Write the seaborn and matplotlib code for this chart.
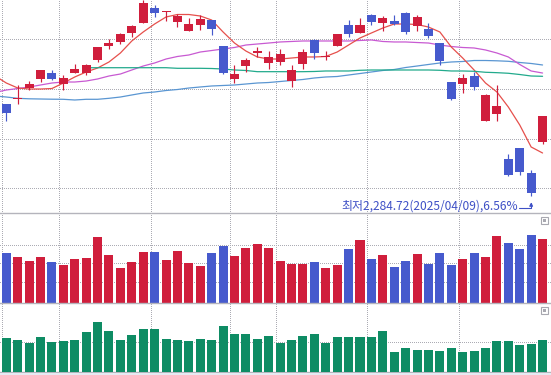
import matplotlib
matplotlib.use("Agg")
import matplotlib.pyplot as plt
import seaborn as sns
import pandas as pd
from matplotlib.patches import Rectangle

sns.set_theme(style="white")
plt.rcParams['font.family'] = ['Noto Sans CJK KR', 'DejaVu Sans']

# ---------------- data ----------------
day = list(range(48))
opens = [2469.7, 2480.5, 2501.9, 2520.1, 2532.1, 2510.0, 2532.1, 2532.1, 2558.3, 2586.5,
         2594.6, 2612.7, 2632.8, 2663.0, 2654.5, 2634.8, 2616.7, 2628.8, 2638.8, 2586.5,
         2520.1, 2546.2, 2572.4, 2552.3, 2554.3, 2516.0, 2550.3, 2598.6, 2564.4, 2586.5,
         2628.8, 2612.7, 2648.9, 2632.8, 2636.8, 2652.9, 2626.8, 2620.7, 2592.5, 2514.0,
         2510.0, 2526.1, 2435.5, 2449.6, 2359.0, 2381.2, 2330.8, 2393.3]
closes = [2452.2, 2481.5, 2510.0, 2538.2, 2520.1, 2522.1, 2540.2, 2548.3, 2584.5, 2592.5,
          2610.7, 2626.8, 2673.1, 2652.9, 2655.5, 2646.9, 2630.8, 2640.9, 2620.7, 2532.1,
          2530.1, 2558.3, 2576.4, 2564.4, 2570.4, 2538.2, 2574.4, 2572.4, 2566.4, 2610.7,
          2610.7, 2628.8, 2634.8, 2642.9, 2630.8, 2614.7, 2644.9, 2606.6, 2556.3, 2479.8,
          2522.1, 2504.0, 2487.9, 2465.7, 2326.8, 2332.8, 2290.6, 2445.6]
highs = [2469.7, 2508.0, 2516.0, 2538.5, 2538.2, 2528.1, 2550.3, 2550.3, 2584.5, 2600.6,
         2612.7, 2628.8, 2679.1, 2669.0, 2657.0, 2650.9, 2642.9, 2648.9, 2638.8, 2586.5,
         2548.3, 2562.3, 2584.5, 2576.4, 2580.5, 2548.3, 2580.5, 2600.6, 2576.4, 2610.7,
         2638.8, 2642.9, 2650.9, 2646.9, 2648.9, 2654.9, 2648.9, 2632.8, 2592.5, 2514.0,
         2530.1, 2534.2, 2489.9, 2508.0, 2369.1, 2381.2, 2336.9, 2445.6]
lows = [2436.1, 2469.7, 2497.9, 2514.0, 2518.1, 2497.9, 2532.1, 2528.1, 2554.3, 2580.5,
        2590.5, 2604.6, 2632.8, 2644.9, 2636.8, 2624.8, 2616.7, 2618.7, 2608.6, 2530.1,
        2512.0, 2534.2, 2564.4, 2540.2, 2548.3, 2503.9, 2540.2, 2560.3, 2558.3, 2586.5,
        2604.6, 2612.7, 2628.8, 2616.7, 2628.8, 2610.7, 2616.7, 2602.6, 2548.3, 2477.8,
        2491.9, 2497.9, 2435.5, 2435.5, 2324.8, 2326.8, 2284.72, 2389.2]

ma_day = list(range(-1, 48))
ma5 = [2526.5, 2512.0, 2502.0, 2499.9, 2499.9, 2500.9, 2512.0, 2524.1, 2534.2, 2542.2,
       2554.3, 2572.4, 2596.6, 2614.7, 2630.8, 2644.9, 2649.9, 2649.9, 2646.9, 2638.8,
       2614.7, 2592.5, 2576.4, 2564.4, 2560.3, 2560.3, 2562.3, 2564.4, 2564.4, 2565.4,
       2574.4, 2588.5, 2602.6, 2612.7, 2622.7, 2630.8, 2630.8, 2629.8, 2624.7, 2614.7,
       2584.5, 2562.3, 2538.2, 2512.0, 2493.9, 2463.7, 2427.5, 2383.2, 2371.1]
ma20 = [2492.9, 2497.9, 2500.9, 2503.9, 2508.0, 2512.0, 2514.0, 2514.0, 2516.0, 2520.1,
        2526.1, 2530.1, 2538.2, 2546.2, 2552.3, 2560.3, 2565.4, 2568.4, 2574.4, 2577.4,
        2580.5, 2583.5, 2588.5, 2590.5, 2592.5, 2594.6, 2595.6, 2596.6, 2596.6, 2596.6,
        2596.6, 2596.6, 2597.6, 2598.6, 2595.6, 2594.6, 2594.6, 2593.5, 2592.5, 2588.5,
        2585.5, 2583.5, 2582.5, 2578.5, 2572.4, 2564.4, 2549.3, 2536.2, 2532.1]
ma120 = [2485.9, 2483.8, 2481.2, 2480.2, 2479.8, 2479.4, 2479.2, 2477.8, 2479.2, 2479.2,
         2481.2, 2483.8, 2487.9, 2491.9, 2493.9, 2496.9, 2498.9, 2501.9, 2504.0, 2506.0,
         2507.0, 2508.0, 2510.0, 2512.0, 2513.0, 2515.0, 2517.1, 2519.1, 2522.1, 2524.1,
         2525.1, 2528.1, 2531.1, 2534.2, 2537.2, 2539.2, 2543.2, 2546.2, 2549.3, 2552.3,
         2554.3, 2555.3, 2557.3, 2557.3, 2556.7, 2555.7, 2553.3, 2551.3, 2548.3]
ma60_day = list(range(7, 48))
ma60 = [2542.8, 2542.8, 2542.8, 2542.8, 2542.8, 2542.8, 2542.8, 2542.8, 2541.6, 2541.6,
        2541.6, 2541.2, 2540.2, 2538.2, 2537.2, 2534.8, 2534.8, 2534.8, 2534.8, 2534.8,
        2535.2, 2536.2, 2536.2, 2536.2, 2537.6, 2538.2, 2538.2, 2538.2, 2538.2, 2538.2,
        2538.2, 2537.6, 2536.2, 2536.2, 2535.6, 2533.6, 2532.8, 2531.6, 2529.1, 2526.1,
        2525.5]

volume = [503, 463, 423, 463, 413, 383, 443, 453, 663, 483,
          353, 413, 513, 513, 433, 523, 403, 373, 503, 573,
          473, 553, 593, 553, 423, 393, 393, 413, 353, 383,
          543, 633, 443, 483, 363, 423, 493, 393, 503, 383,
          443, 503, 463, 673, 603, 543, 683, 643]
green_vals = [343, 323, 293, 353, 303, 313, 323, 403, 503, 413,
              323, 373, 433, 433, 333, 323, 313, 333, 323, 463,
              383, 383, 333, 363, 293, 323, 363, 383, 293, 353,
              353, 353, 353, 413, 203, 243, 223, 223, 213, 243,
              203, 213, 243, 313, 313, 273, 283, 323]

price_grid = [2300, 2400, 2500, 2600]
vol_grid = [210, 400, 580]
green_grid = [300]
vgrid = [-0.35, 4.65, 12.65, 19.65, 23.65, 31.65, 39.65]
low_label = "최저2,284.72(2025/04/09),6.56%"

# ---------------- style ----------------
RED = "#d01e3c"
BLUE = "#465acd"
GREEN = "#0e8c64"
C_MA5 = "#e6504c"
C_MA20 = "#c85ad2"
C_MA60 = "#22aa8c"
C_MA120 = "#5a96d2"
GRID = "#acacb4"
SEP = "#b4b4bc"
TXT = "#3e50c6"
XLIM = (-0.552, 47.74)
DOT = dict(color=GRID, lw=0.72, ls=(0, (1, 2)), zorder=0, antialiased=False)

fig = plt.figure(figsize=(5.51, 3.75), dpi=100)
fig.patch.set_facecolor("white")
ax1 = fig.add_axes([0, 0.4312, 1, 0.5688])
ax2 = fig.add_axes([0, 0.1912, 1, 0.2400])
ax3 = fig.add_axes([0, 0.0072, 1, 0.1840])

up = [c >= o for o, c in zip(opens, closes)]
cols = [RED if u else BLUE for u in up]

# ---- price panel ----
for y in price_grid:
    ax1.axhline(y, **DOT)
for lst, c in [(ma120, C_MA120), (ma20, C_MA20), (ma5, C_MA5)]:
    sns.lineplot(x=ma_day, y=lst, ax=ax1, color=c, lw=0.9, zorder=2)
sns.lineplot(x=ma60_day, y=ma60, ax=ax1, color=C_MA60, lw=0.9, zorder=2)

ax1.vlines(day, lows, highs, colors=cols, lw=0.85, zorder=3)
bottoms = [min(o, c) for o, c in zip(opens, closes)]
heights = [max(abs(c - o), 1.8) for o, c in zip(opens, closes)]
ax1.bar(day, heights, bottom=bottoms, width=0.79, color=cols, linewidth=0, zorder=4)

ax1.text(44.85, 2264.6, low_label, ha="right", va="center", fontsize=8.6,
         color=TXT, zorder=6)
ax1.annotate("", xy=(46, 2272.0), xytext=(44.95, 2260.2), zorder=6,
             arrowprops=dict(arrowstyle="-|>", color=TXT, lw=0.8, mutation_scale=5,
                             shrinkA=0, shrinkB=0,
                             connectionstyle="angle,angleA=0,angleB=90,rad=0"))
ax1.set_ylim(2249.7, 2679.1)

# ---- volume panel ----
vdf = pd.DataFrame({"day": day, "volume": volume,
                    "dir": ["up" if u else "down" for u in up]})
sns.barplot(data=vdf, x="day", y="volume", hue="dir",
            palette={"up": RED, "down": BLUE}, dodge=False, native_scale=True,
            width=0.79, saturation=1, errorbar=None, legend=False,
            linewidth=0, ax=ax2, zorder=3)
for y in vol_grid:
    ax2.axhline(y, **DOT)
ax2.set_ylim(0, 900)

# ---- green panel ----
gdf = pd.DataFrame({"day": day, "value": green_vals})
sns.barplot(data=gdf, x="day", y="value", color=GREEN, native_scale=True,
            width=0.79, saturation=1, errorbar=None, linewidth=0, ax=ax3, zorder=3)
for y in green_grid:
    ax3.axhline(y, **DOT)
ax3.set_ylim(0, 690)

for ax in (ax1, ax2, ax3):
    for x in vgrid:
        ax.axvline(x, **DOT)
    ax.set_xlim(*XLIM)
    ax.set_xticks([])
    ax.set_yticks([])
    ax.set_xlabel("")
    ax.set_ylabel("")
    ax.set_facecolor("none")
    for s in ax.spines.values():
        s.set_visible(False)

for ax in (ax2, ax3):
    ax.spines["top"].set_visible(True)
    ax.spines["top"].set_color(SEP)
    ax.spines["top"].set_linewidth(1.0)
ax3.spines["bottom"].set_visible(True)
ax3.spines["bottom"].set_color(SEP)
ax3.spines["bottom"].set_linewidth(1.0)

# bottom strip
fig.patches.append(Rectangle((0, 0), 1, 2.0 / 375, transform=fig.transFigure,
                             facecolor="#e6eaf2", edgecolor="none", zorder=0))
# small panel icons
W, H = 551.0, 375.0
for top in (216.7, 306.7):
    fig.patches.append(Rectangle((540.5 / W, (H - top - 7.3) / H), 7.5 / W, 7.3 / H,
                                 transform=fig.transFigure, facecolor="white",
                                 edgecolor="#a8a8b0", lw=0.8, zorder=10))
    fig.patches.append(Rectangle((542.5 / W, (H - top - 5.0) / H), 3.5 / W, 2.5 / H,
                                 transform=fig.transFigure, facecolor="#a8a8b0",
                                 edgecolor="none", zorder=11))

fig.savefig("out.png", dpi=100, facecolor="white")
